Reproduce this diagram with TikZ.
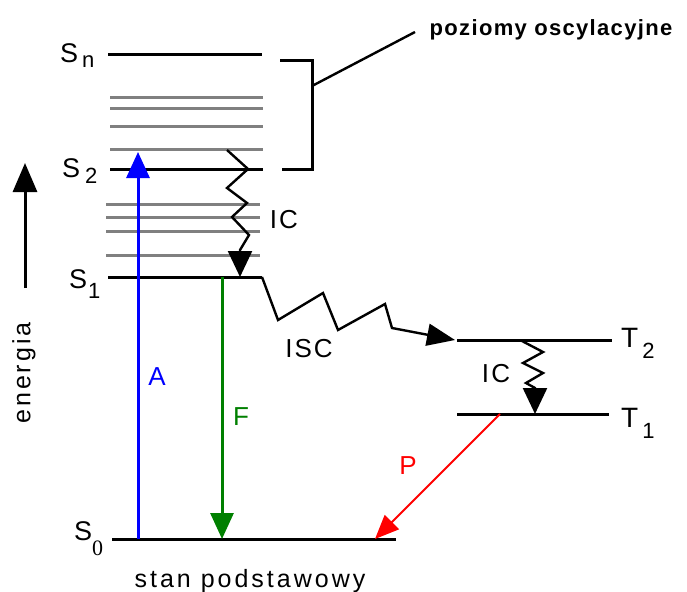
\documentclass[tikz,border=0pt]{standalone}
\usepackage{fontspec}
\setmainfont{Liberation Sans}
\newfontfamily\serifzero{Liberation Serif}
\usetikzlibrary{arrows.meta}
\definecolor{vibgray}{RGB}{128,128,128}
\definecolor{fgreen}{RGB}{0,128,0}
\newcommand{\subsz}{\fontsize{22}{22}\selectfont}
\begin{document}
\begin{tikzpicture}[x=1pt,y=-1pt,
  level/.style={line width=3pt, line cap=butt},
  vib/.style={line width=3pt, draw=vibgray},
  wavy/.style={line width=2.4pt, line join=miter},
  lbl/.style={inner sep=0pt, font=\fontsize{27}{27}\selectfont},
  proc/.style={inner sep=0pt, font=\fontsize{26}{26}\selectfont\addfontfeatures{LetterSpace=8}},
  midtip/.style={-{Triangle[length=26pt,width=23pt]}},
]
\useasboundingbox (0,0) rectangle (687,591);

% levels
\coordinate (snl) at (108,55);  \coordinate (snr) at (262,55);
\coordinate (s2l) at (110,169); \coordinate (s2r) at (263,169);
\coordinate (s1l) at (108,277); \coordinate (s1r) at (262,277);
\coordinate (s0l) at (112,539); \coordinate (s0r) at (396,539);
\coordinate (t2l) at (457,340); \coordinate (t2r) at (612,340);
\coordinate (t1l) at (457,414); \coordinate (t1r) at (609,414);

% vibrational levels
\foreach \yy in {98,109,126,149} \draw[vib] (110,\yy) -- (263,\yy);
\foreach \yy in {204,217,231,255} \draw[vib] (106,\yy) -- (260,\yy);

\draw[level] (snl) -- (snr);
\draw[level] (s2l) -- (s2r);
\draw[level] (s1l) -- (s1r);
\draw[level] (s0l) -- (s0r);
\draw[level] (t2l) -- (t2r);
\draw[level] (t1l) -- (t1r);

% bracket and leader
\coordinate (brt) at (280,61); \coordinate (brb) at (282,169);
\coordinate (brm) at (312,86);
\draw[level, line join=miter] (brt) -- (312,61) -- (312,169) -- (brb);
\node[inner sep=0pt, anchor=base, font=\fontsize{22}{22}\selectfont\bfseries\addfontfeatures{LetterSpace=6}] (osc) at (551,36) {poziomy oscylacyjne};
\coordinate (lead) at (415,32);
\draw[line width=2.4pt] (brm) -- (lead);

% energy axis
\coordinate (e0) at (25,288); \coordinate (e1) at (25,163);
\draw[line width=3pt, -{Triangle[length=29pt,width=24pt]}] (e0) -- (e1);
\node[proc, rotate=90, font=\fontsize{25}{25}\selectfont\addfontfeatures{LetterSpace=12}] (en) at (24,373) {energia};

% absorption
\coordinate (a0) at (138,539); \coordinate (a1) at (138,152);
\draw[line width=3pt, blue, {Triangle[length=26pt,width=23pt]}-] (a1) -- (a0);
\node[proc, text=blue] (A) at (157,377) {A};

% fluorescence
\coordinate (f0) at (222,277); \coordinate (f1) at (222,539);
\draw[line width=3pt, fgreen, midtip] (f0) -- (f1);
\node[proc, text=fgreen] (F) at (241,417) {F};

% phosphorescence
\coordinate (p0) at (500,414); \coordinate (p1) at (375,539);
\draw[line width=2pt, red, -{Triangle[length=24pt,width=20pt]}] (p0) -- (p1);
\node[proc, text=red] (P) at (408,466) {P};

% internal conversion S2 -> S1
\coordinate (ic1a) at (227,150); \coordinate (ic1b) at (240,277);
\draw[wavy, -{Triangle[length=26pt,width=24pt]}] (ic1a) -- (248,169) -- (227,188) -- (247,203) -- (232,217) -- (249,235) -- (240,250) -- (ic1b);
\node[proc] (IC1) at (284,220) {IC};

% intersystem crossing
\coordinate (isc) at (455,340);
\draw[wavy, -{Triangle[length=28pt,width=22pt]}] (s1r) -- (278,320) -- (323,293) -- (338,330) -- (385,304) -- (392,328) -- (isc);
\node[proc] (ISC) at (309,349) {ISC};

% internal conversion T2 -> T1
\coordinate (ic2a) at (522,341); \coordinate (ic2b) at (535,414);
\draw[wavy, -{Triangle[length=26pt,width=24pt]}] (ic2a) -- (543,352) -- (523,363) -- (543,373) -- (526,383) -- (535,388) -- (ic2b);
\node[proc] (IC2) at (496,374) {IC};

% level labels
\node[lbl, anchor=base west] (Sn) at (60,63) {S\kern4pt\raisebox{-5pt}{\subsz n}};
\node[lbl, anchor=base west] (S2) at (62,177) {S\kern5pt\raisebox{-6pt}{\subsz 2}};
\node[lbl, anchor=base west] (S1) at (69,288) {S\kern1pt\raisebox{-10pt}{\subsz 1}};
\node[lbl, anchor=base west] (S0) at (74,540) {S\raisebox{-15pt}{\serifzero\subsz 0}};
\node[lbl, anchor=base west, font=\fontsize{28}{28}\selectfont] (T2) at (621,347) {T\kern4pt\raisebox{-11pt}{\subsz 2}};
\node[lbl, anchor=base west, font=\fontsize{28}{28}\selectfont] (T1) at (621,427) {T\kern4pt\raisebox{-11pt}{\subsz 1}};

\node[inner sep=0pt, anchor=base, font=\fontsize{25}{25}\selectfont\addfontfeatures{LetterSpace=12}] (ground) at (250,587) {stan podstawowy};
\end{tikzpicture}
\end{document}
